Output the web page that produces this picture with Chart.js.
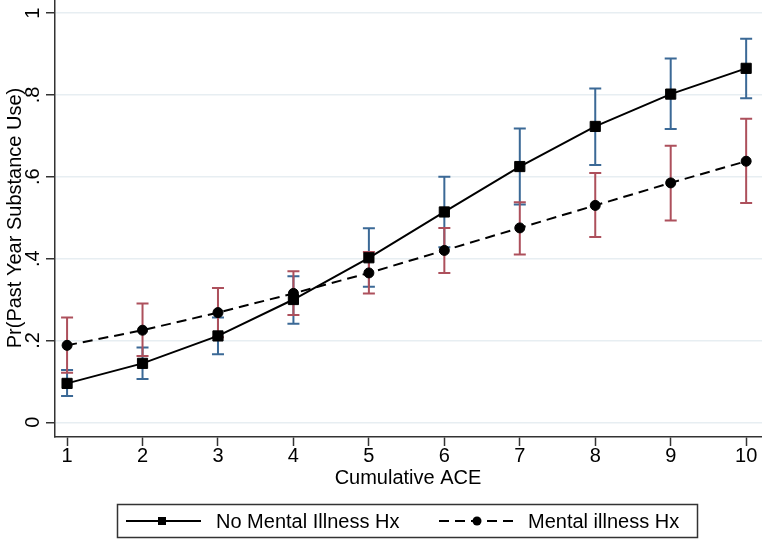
<!DOCTYPE html>
<html>
<head>
<meta charset="utf-8">
<script src="https://cdn.jsdelivr.net/npm/chart.js@4"></script>
<style>
  body { margin: 0; background: #fff; }
  canvas { display: block; }
</style>
</head>
<body>
<canvas id="myChart" width="762" height="540"></canvas>
<script>
// Cumulative ACE levels
const aceLevels = [1, 2, 3, 4, 5, 6, 7, 8, 9, 10];
// No Mental Illness Hx: estimate and 95% CI
const noMiEst = [0.095, 0.144, 0.211, 0.300, 0.402, 0.514, 0.625, 0.723, 0.802, 0.865];
const noMiLo  = [0.064, 0.106, 0.166, 0.241, 0.331, 0.428, 0.532, 0.629, 0.717, 0.792];
const noMiHi  = [0.128, 0.183, 0.256, 0.357, 0.474, 0.600, 0.718, 0.816, 0.889, 0.937];
// Mental illness Hx: estimate and 95% CI
const miEst = [0.188, 0.225, 0.268, 0.315, 0.365, 0.420, 0.475, 0.530, 0.585, 0.638];
const miLo  = [0.121, 0.162, 0.208, 0.262, 0.315, 0.365, 0.410, 0.453, 0.493, 0.536];
const miHi  = [0.256, 0.290, 0.328, 0.369, 0.416, 0.475, 0.538, 0.609, 0.676, 0.742];
// y tick values and labels
const yTicks = [0, 0.2, 0.4, 0.6, 0.8, 1];
const yTickLabels = ['0', '.2', '.4', '.6', '.8', '1'];
const seriesNames = ['No Mental Illness Hx', 'Mental illness Hx'];

const FONT = '"Liberation Sans", Arial, Helvetica, sans-serif';
const AXIS = '#333333';

function toPoints(ys) {
    return aceLevels.map((x, i) => ({ x: x, y: ys[i] }));
}

// error bars, drawn under the lines
const errorBars = {
    id: 'errorBars',
    beforeDatasetsDraw(chart) {
        const ctx = chart.ctx;
        const xs = chart.scales.x, ys = chart.scales.y;
        const sets = [
            { lo: noMiLo, hi: noMiHi, color: '#3b6996' },
            { lo: miLo, hi: miHi, color: '#ad505c' }
        ];
        ctx.save();
        sets.forEach(s => {
            ctx.strokeStyle = s.color;
            ctx.lineWidth = 2;
            aceLevels.forEach((a, i) => {
                const px = xs.getPixelForValue(a);
                const pLo = ys.getPixelForValue(s.lo[i]);
                const pHi = ys.getPixelForValue(s.hi[i]);
                ctx.beginPath();
                ctx.moveTo(px, pLo); ctx.lineTo(px, pHi);
                ctx.moveTo(px - 6, pLo); ctx.lineTo(px + 6, pLo);
                ctx.moveTo(px - 6, pHi); ctx.lineTo(px + 6, pHi);
                ctx.stroke();
            });
        });
        ctx.restore();
    }
};

// rotated y labels, axis titles and the boxed legend
const decorations = {
    id: 'decorations',
    afterDraw(chart) {
        const ctx = chart.ctx;
        const ys = chart.scales.y;
        ctx.save();
        ctx.fillStyle = '#000';
        ctx.font = '20px ' + FONT;
        ctx.textAlign = 'center';
        ctx.textBaseline = 'middle';
        yTicks.forEach((v, i) => {
            ctx.save();
            ctx.translate(33, ys.getPixelForValue(v));
            ctx.rotate(-Math.PI / 2);
            ctx.fillText(yTickLabels[i], 0, 0);
            ctx.restore();
        });
        ctx.save();
        ctx.translate(15, 218);
        ctx.rotate(-Math.PI / 2);
        ctx.fillText('Pr(Past Year Substance Use)', 0, 0);
        ctx.restore();

        ctx.fillText('Cumulative ACE', 408, 478);

        // legend
        ctx.strokeStyle = AXIS;
        ctx.lineWidth = 1.5;
        ctx.strokeRect(117.5, 504.5, 580, 33);
        const ly = 521;
        ctx.strokeStyle = '#000';
        ctx.lineWidth = 2;
        ctx.beginPath();
        ctx.moveTo(126, ly); ctx.lineTo(201, ly);
        ctx.stroke();
        ctx.fillRect(158, ly - 4, 8, 8);
        ctx.setLineDash([10, 6]);
        ctx.beginPath();
        ctx.moveTo(439, ly); ctx.lineTo(516, ly);
        ctx.stroke();
        ctx.setLineDash([]);
        ctx.beginPath();
        ctx.arc(477, ly, 4.5, 0, Math.PI * 2);
        ctx.fill();
        ctx.font = '20px ' + FONT;
        ctx.textAlign = 'left';
        ctx.fillText(seriesNames[0], 216, ly + 1);
        ctx.fillText(seriesNames[1], 528, ly + 1);
        ctx.restore();
    }
};

const ctx1 = document.getElementById('myChart');
const myChart = new Chart(ctx1, {
    type: 'line',
    data: {
        datasets: [{
            label: seriesNames[0],
            data: toPoints(noMiEst),
            borderColor: '#000',
            backgroundColor: '#000',
            borderWidth: 2,
            pointStyle: 'rect',
            pointRadius: 7.2,
            pointBorderWidth: 1,
            tension: 0
        }, {
            label: seriesNames[1],
            data: toPoints(miEst),
            borderColor: '#000',
            backgroundColor: '#000',
            borderWidth: 2,
            borderDash: [10, 6],
            pointStyle: 'circle',
            pointRadius: 5,
            pointBorderWidth: 1,
            tension: 0
        }]
    },
    options: {
        responsive: false,
        animation: false,
        devicePixelRatio: 1,
        layout: { padding: 0, autoPadding: false },
        plugins: {
            legend: { display: false },
            tooltip: { enabled: false }
        },
        scales: {
            x: {
                type: 'linear',
                min: 0.84,
                max: 10.21,
                afterBuildTicks: s => { s.ticks = aceLevels.map(v => ({ value: v })); },
                afterFit: s => { s.height = 103; s.paddingLeft = 0; s.paddingRight = 0; },
                grid: { drawOnChartArea: false, tickLength: 9, tickColor: AXIS, tickWidth: 1.5 },
                border: { color: AXIS, width: 1.5 },
                ticks: {
                    color: '#000',
                    font: { family: FONT, size: 20 },
                    padding: -2,
                    maxRotation: 0
                }
            },
            y: {
                min: -0.036,
                max: 1.032,
                afterBuildTicks: s => { s.ticks = yTicks.map(v => ({ value: v })); },
                afterFit: s => { s.width = 55; s.paddingTop = 0; s.paddingBottom = 0; },
                grid: { color: '#e7eef2', lineWidth: 1.5, tickLength: 9, tickColor: AXIS, tickWidth: 1.5 },
                border: { color: AXIS, width: 1.5 },
                ticks: { display: false }
            }
        }
    },
    plugins: [errorBars, decorations]
});
</script>
</body>
</html>
